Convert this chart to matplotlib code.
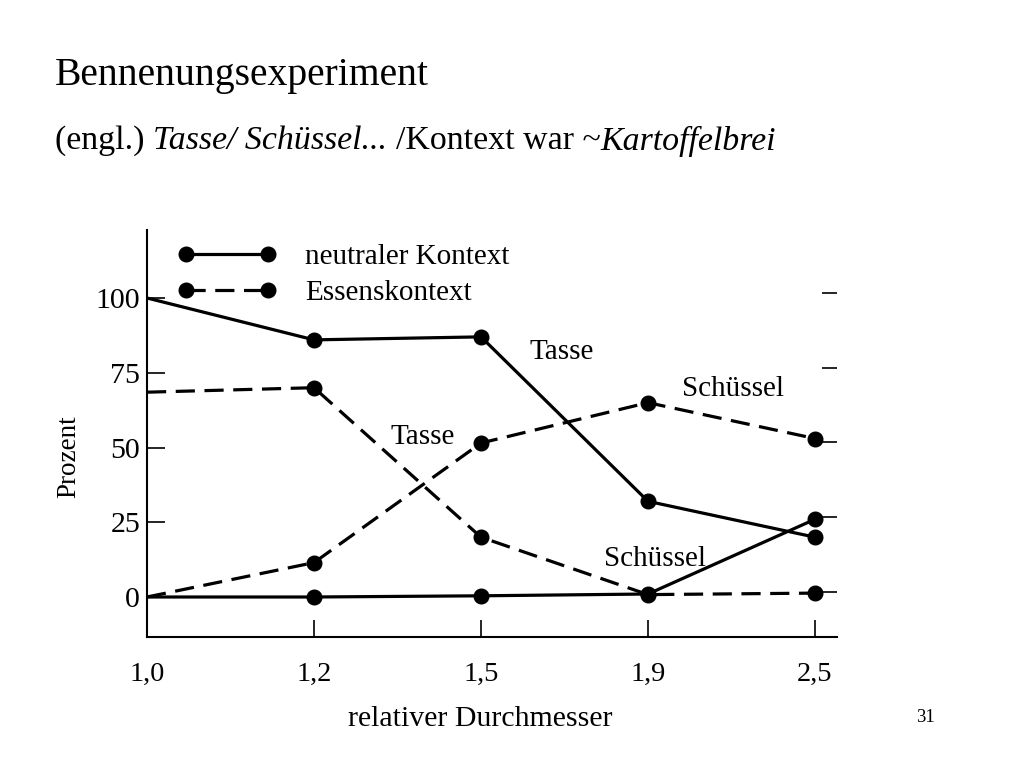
import matplotlib
matplotlib.use("Agg")
import matplotlib.pyplot as plt
from matplotlib.lines import Line2D

# ---- data ----
x_labels = ["1,0", "1,2", "1,5", "1,9", "2,5"]
neutral_tasse = [100, 86, 87, 32, 20]
neutral_schuessel = [0, 0, 0.4, 1, 26]
essen_tasse = [68.5, 70, 20, 0.8, 1.3]
essen_schuessel = [0, 11.5, 51.5, 65, 53]
y_ticks = [0, 25, 50, 75, 100]

plt.rcParams['font.family'] = ['Liberation Serif', 'DejaVu Serif']

fig = plt.figure(figsize=(10.24, 7.68), dpi=100)
fig.patch.set_facecolor('white')

# title & subtitle
fig.text(55 / 1024, 1 - 76 / 768, "Bennenungsexperiment", fontsize=28.5, va='center', ha='left')

def draw_pieces(x, y, pieces, fontsize):
    renderer = fig.canvas.get_renderer()
    cur = x
    for txt, style in pieces:
        t = fig.text(cur, y, txt, fontsize=fontsize, style=style, va='center', ha='left')
        bb = t.get_window_extent(renderer=renderer)
        cur += bb.width / fig.bbox.width

draw_pieces(55 / 1024, 1 - 141 / 768,
            [("(engl.) ", 'normal'), ("Tasse/ Schüssel... ", 'italic'),
             ("/Kontext war ~", 'normal'), ("Kartoffelbrei", 'italic')], 24.4)

ax = fig.add_axes([147 / 1024, 1 - 637 / 768, 690 / 1024, 407 / 768])
n = len(x_labels)
xs = list(range(n))
px_per_idx = 167
ax.set_xlim(0, 690 / px_per_idx)
ax.set_ylim((597 - 637) / 2.99, (597 - 230) / 2.99)

lw = 2.3
ms = 10.5
dash = (0, (6, 3))
mk = [1, 2, 3, 4]
ax.plot(xs, neutral_tasse, color='black', lw=lw, marker='o', ms=ms, markevery=mk)
ax.plot(xs, neutral_schuessel, color='black', lw=lw, marker='o', ms=ms, markevery=mk)
ax.plot(xs, essen_tasse, color='black', lw=lw, ls=dash, marker='o', ms=ms, markevery=mk)
ax.plot(xs, essen_schuessel, color='black', lw=lw, ls=dash, marker='o', ms=ms, markevery=mk)

for s in ['top', 'right']:
    ax.spines[s].set_visible(False)
ax.spines['left'].set_linewidth(1.5)
ax.spines['bottom'].set_linewidth(1.5)

ax.set_yticks(y_ticks)
ax.set_yticklabels([str(v) for v in y_ticks])
ax.tick_params(axis='y', direction='in', length=13, width=1.2, labelsize=21.5, pad=5)
ax.set_xticks(xs)
ax.set_xticklabels(x_labels)
ax.tick_params(axis='x', direction='in', length=12, width=1.2, labelsize=20.5, pad=18)

# right-side short ticks
ax2 = ax.twinx()
ax2.set_ylim(ax.get_ylim()[0] - 1.7, ax.get_ylim()[1] - 1.7)
for s in ['top', 'right', 'left', 'bottom']:
    ax2.spines[s].set_visible(False)
ax2.set_yticks(y_ticks)
ax2.set_yticklabels([])
ax2.tick_params(axis='y', direction='in', length=11, width=1.2, right=True, pad=0)

ax.set_ylabel("Prozent", fontsize=19.5)
ax.yaxis.set_label_coords((81 - 147) / 690, 0.442)
fig.text(480 / 1024, 1 - 719 / 768, "relativer Durchmesser", fontsize=21.5, ha='center', va='center')
fig.text(925 / 1024, 1 - 718 / 768, "31", fontsize=13.5, ha='center', va='center')

# annotations
fs_ann = 21
ax.text(2.485, 82, "Tasse", fontsize=fs_ann, ha='center', va='center')
ax.text(3.51, 69.6, "Schüssel", fontsize=fs_ann, ha='center', va='center')
ax.text(1.65, 53.5, "Tasse", fontsize=fs_ann, ha='center', va='center')
ax.text(3.04, 12.7, "Schüssel", fontsize=fs_ann, ha='center', va='center')

handles = [Line2D([], [], color='black', lw=lw, marker='o', ms=ms),
           Line2D([], [], color='black', lw=lw, ls=dash, marker='o', ms=ms)]
leg = ax.legend(handles, ["neutraler Kontext", "Essenskontext"], loc='upper left',
                bbox_to_anchor=((177 - 147) / 690, (637 - 244) / 407), borderaxespad=0,
                borderpad=0, frameon=False, numpoints=2,
                handlelength=3.43, handletextpad=0.96, fontsize=21, labelspacing=0.32)

fig.savefig("out.png", dpi=100, facecolor='white')
